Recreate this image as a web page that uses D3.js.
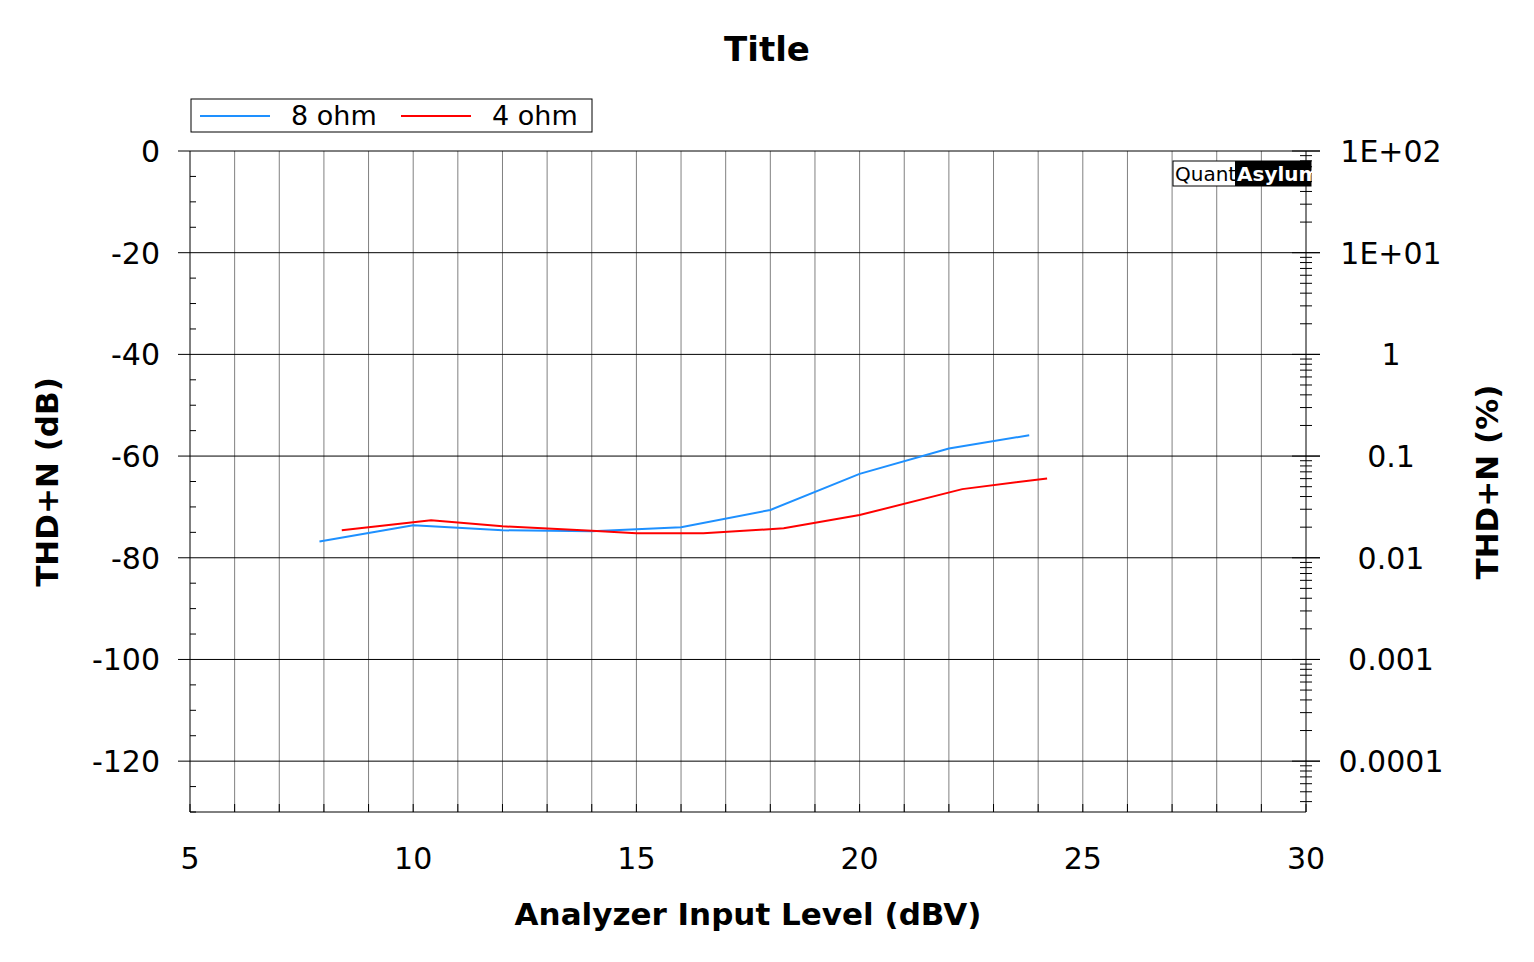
<!DOCTYPE html>
<html><head><meta charset="utf-8">
<script src="https://cdn.jsdelivr.net/npm/d3@7"></script>
<style>body{margin:0;background:#fff}text{font-family:"DejaVu Sans",Arial,sans-serif}</style>
</head><body><svg id="c" width="1534" height="962"></svg>
<script>
const seriesNames = ["8 ohm", "4 ohm"];
const seriesColors = ["#1e90ff", "#ff0000"];
const x8 = [7.9, 10, 12, 14, 16, 18, 20, 22, 23.8];
const y8 = [-76.8, -73.6, -74.6, -74.8, -74.0, -70.6, -63.5, -58.5, -55.9];
const x4 = [8.4, 10.4, 12, 14, 15, 16.5, 18.3, 20, 22.3, 24.2];
const y4 = [-74.6, -72.6, -73.8, -74.7, -75.2, -75.2, -74.2, -71.6, -66.5, -64.4];
const xTicks = [5, 10, 15, 20, 25, 30];
const yTicks = [0, -20, -40, -60, -80, -100, -120];
const rTicks = [100, 10, 1, 0.1, 0.01, 0.001, 0.0001];
const rLabels = ["1E+02", "1E+01", "1", "0.1", "0.01", "0.001", "0.0001"];

const svg = d3.select("#c");
const L = 190, R = 1306, T = 151, B = 812;
const x = d3.scaleLinear().domain([5, 30]).range([L, R]);
const y = d3.scaleLinear().domain([-130, 0]).range([B, T]);
const yr = d3.scaleLog().domain([100 * Math.pow(10, -130 / 20), 100]).range([B, T]);

const g = svg.append("g");
d3.range(6, 30).forEach(v => g.append("line").attr("x1", x(v)).attr("x2", x(v)).attr("y1", T).attr("y2", B).attr("stroke", "#808080").attr("stroke-width", 1));
yTicks.forEach(v => g.append("line").attr("x1", L - 12).attr("x2", R + 14).attr("y1", y(v)).attr("y2", y(v)).attr("stroke", "#000"));
g.append("line").attr("x1", L).attr("x2", L).attr("y1", T).attr("y2", B).attr("stroke", "#000");
g.append("line").attr("x1", R).attr("x2", R).attr("y1", T).attr("y2", B).attr("stroke", "#000");
g.append("line").attr("x1", L).attr("x2", R).attr("y1", B).attr("y2", B).attr("stroke", "#000");
d3.range(-130, 1, 5).forEach(v => { if (v % 20) g.append("line").attr("x1", L).attr("x2", L + 6).attr("y1", y(v)).attr("y2", y(v)).attr("stroke", "#000"); });
for (let e = -5; e <= 2; e++) for (let m = 1; m < 10; m++) {
  const v = m * Math.pow(10, e);
  if (v > 100 || v < yr.domain()[0]) continue;
  const w = m === 1 ? 14 : 6;
  g.append("line").attr("x1", R - w).attr("x2", R + w).attr("y1", yr(v)).attr("y2", yr(v)).attr("stroke", "#000");
}
d3.range(5, 31).forEach(v => g.append("line").attr("x1", x(v)).attr("x2", x(v)).attr("y1", B).attr("y2", B - 8).attr("stroke", "#000"));

xTicks.forEach(v => svg.append("text").attr("x", x(v)).attr("y", B + 57).attr("text-anchor", "middle").attr("font-size", 30).text(v));
yTicks.forEach(v => svg.append("text").attr("x", 160).attr("y", y(v) + 11).attr("text-anchor", "end").attr("font-size", 30).text(v));
rTicks.forEach((v, i) => svg.append("text").attr("x", 1391).attr("y", yr(v) + 11).attr("text-anchor", "middle").attr("font-size", 30).text(rLabels[i]));

svg.append("text").attr("x", 767).attr("y", 61).attr("text-anchor", "middle").attr("font-size", 34).attr("font-weight", "bold").text("Title");
svg.append("text").attr("x", 748).attr("y", 925).attr("text-anchor", "middle").attr("font-size", 31).attr("font-weight", "bold").text("Analyzer Input Level (dBV)");
svg.append("text").attr("transform", "translate(58,482) rotate(-90)").attr("text-anchor", "middle").attr("font-size", 31).attr("font-weight", "bold").text("THD+N (dB)");
svg.append("text").attr("transform", "translate(1498,482) rotate(-90)").attr("text-anchor", "middle").attr("font-size", 31).attr("font-weight", "bold").text("THD+N (%)");

svg.append("rect").attr("x", 1173).attr("y", 161).attr("width", 138).attr("height", 25).attr("fill", "#fff").attr("stroke", "#000");
svg.append("rect").attr("x", 1235).attr("y", 161).attr("width", 76).attr("height", 25).attr("fill", "#000");
svg.append("text").attr("x", 1175).attr("y", 181).attr("font-size", 20).attr("font-family", "Open Sans").text("Quant");
svg.append("text").attr("x", 1237).attr("y", 181).attr("font-size", 20).attr("font-family", "Open Sans").attr("font-weight", "bold").attr("fill", "#fff").text("Asylum");

const line = d3.line().x(d => x(d[0])).y(d => y(d[1]));
[[x8, y8], [x4, y4]].forEach((s, i) => {
  svg.append("path").datum(d3.zip(s[0], s[1])).attr("d", line).attr("fill", "none").attr("stroke", seriesColors[i]).attr("stroke-width", 2);
});

svg.append("rect").attr("x", 191).attr("y", 99).attr("width", 401).attr("height", 33).attr("fill", "#fff").attr("stroke", "#000");
seriesNames.forEach((n, i) => {
  const ox = 200 + i * 201;
  svg.append("line").attr("x1", ox).attr("x2", ox + 70).attr("y1", 116).attr("y2", 116).attr("stroke", seriesColors[i]).attr("stroke-width", 2);
  svg.append("text").attr("x", ox + 91).attr("y", 125).attr("font-size", 27).text(n);
});
</script></body></html>
